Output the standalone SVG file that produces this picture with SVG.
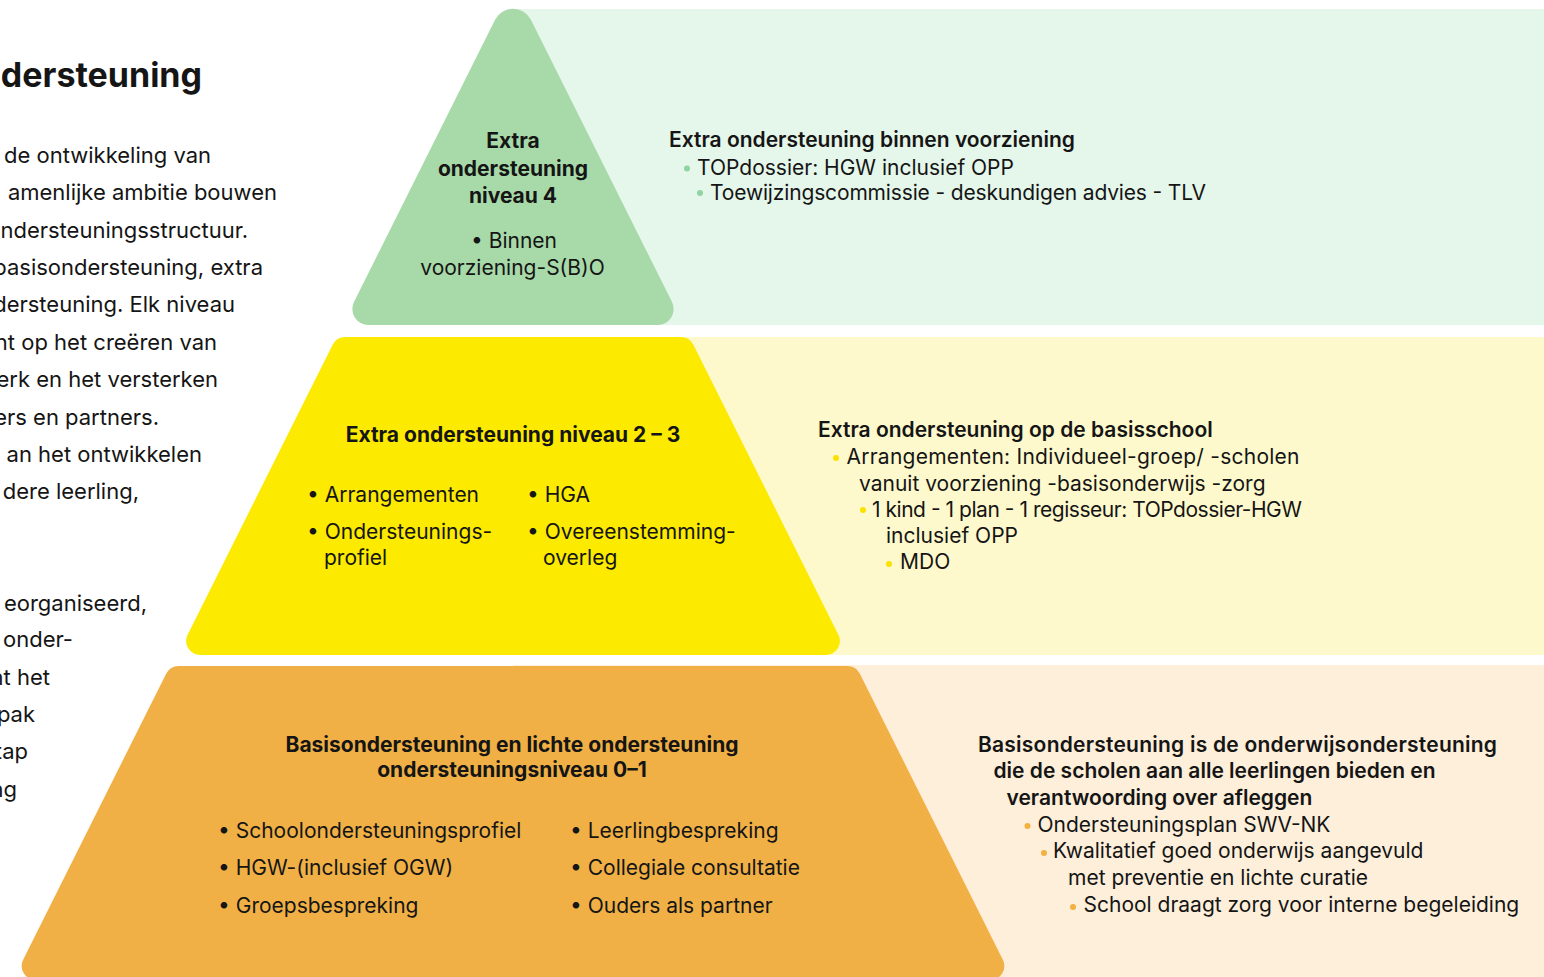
<svg xmlns="http://www.w3.org/2000/svg" width="1544" height="977" viewBox="0 0 1544 977">
<style>
text{font-family:Inter,"Liberation Sans",sans-serif;fill:#151515;}
.r{font-size:21px;font-weight:400;}
.l{font-size:22px;font-weight:400;}
.b{font-size:21px;font-weight:700;}
.s{font-size:21px;font-weight:600;}
.h{font-size:34px;font-weight:700;}
.e{text-anchor:end;}
.m{text-anchor:middle;}
.dg{fill:#8fd4a2;}
.dy{fill:#fbe200;}
.do{fill:#f4b041;}
</style>
<rect width="1544" height="977" fill="#ffffff"/>

<g id="intro">
<text class="h e" x="202" y="87">dersteuning</text>
<text class="l e" x="211" y="163">t de ontwikkeling van</text>
<text class="l e" x="277" y="200.4">amenlijke ambitie bouwen</text>
<text class="l e" x="248" y="237.7">ndersteuningsstructuur.</text>
<text class="l e" x="263" y="275">basisondersteuning, extra</text>
<text class="l e" x="235" y="312.4">dersteuning. Elk niveau</text>
<text class="l e" x="217" y="349.8">nt op het creëren van</text>
<text class="l e" x="218" y="387.1">erk en het versterken</text>
<text class="l e" x="159" y="424.5">ers en partners.</text>
<text class="l e" x="202" y="461.8">an het ontwikkelen</text>
<text class="l e" x="139" y="499.2">dere leerling,</text>
<text class="l e" x="147" y="610.5">eorganiseerd,</text>
<text class="l e" x="73" y="647.4">onder-</text>
<text class="l e" x="50" y="684.7">nt het</text>
<text class="l e" x="35" y="722">pak</text>
<text class="l e" x="28" y="759.4">tap</text>
<text class="l e" x="17" y="796.8">ng</text>
</g>

<g id="level4-panel">
<rect x="513" y="9" width="1031" height="316" fill="#e5f6ea"/>
<text class="s" x="669" y="146.5">Extra ondersteuning binnen voorziening</text>
<circle class="dg" cx="687" cy="168.5" r="3"/>
<text class="r" x="697" y="175">TOPdossier: HGW inclusief OPP</text>
<circle class="dg" cx="700" cy="193" r="3"/>
<text class="r" x="710" y="200" textLength="496" lengthAdjust="spacing">Toewijzingscommissie - deskundigen advies - TLV</text>
</g>

<g id="level23-panel">
<rect x="513" y="337" width="1031" height="318" fill="#fef9cc"/>
<text class="s" x="818" y="436.7">Extra ondersteuning op de basisschool</text>
<circle class="dy" cx="836" cy="458" r="3"/>
<text class="r" x="846.5" y="464" textLength="453" lengthAdjust="spacing">Arrangementen: Individueel-groep/ -scholen</text>
<text class="r" x="859" y="490.5">vanuit voorziening -basisonderwijs -zorg</text>
<circle class="dy" cx="863" cy="510" r="3"/>
<text class="r" x="872" y="516.7" textLength="430" lengthAdjust="spacing">1 kind - 1 plan - 1 regisseur: TOPdossier-HGW</text>
<text class="r" x="886" y="543.3">inclusief OPP</text>
<circle class="dy" cx="889" cy="564" r="3"/>
<text class="r" x="900" y="569.3">MDO</text>
</g>

<g id="level01-panel">
<rect x="513" y="665" width="1031" height="312" fill="#fdefda"/>
<text class="s" x="978" y="751.7" textLength="519" lengthAdjust="spacing">Basisondersteuning is de onderwijsondersteuning</text>
<text class="s" x="993.5" y="778.3">die de scholen aan alle leerlingen bieden en</text>
<text class="s" x="1006.5" y="805">verantwoording over afleggen</text>
<circle class="do" cx="1027.5" cy="826" r="3"/>
<text class="r" x="1037.5" y="831.7">Ondersteuningsplan SWV-NK</text>
<circle class="do" cx="1044" cy="853" r="3"/>
<text class="r" x="1053" y="858.3">Kwalitatief goed onderwijs aangevuld</text>
<text class="r" x="1068" y="885">met preventie en lichte curatie</text>
<circle class="do" cx="1073" cy="907" r="3"/>
<text class="r" x="1083.5" y="912.3">School draagt zorg voor interne begeleiding</text>
</g>

<g id="level4">
<path d="M368.4 325 L657.6 325 A16 16 0 0 0 671.9 301.8 L530.9 19.8 A20 20 0 0 0 495.1 19.8 L354.1 301.8 A16 16 0 0 0 368.4 325 Z" fill="#a8d9a9"/>
<text class="b m" x="513" y="148.3">Extra</text>
<text class="b m" x="513" y="175.5">ondersteuning</text>
<text class="b m" x="513" y="202.5">niveau 4</text>
<text class="r m" x="514" y="248.3">• Binnen</text>
<text class="r m" x="512.5" y="275">voorziening-S(B)O</text>
</g>

<g id="level23">
<path d="M345.15 337 L680.85 337 A14 14 0 0 1 693.37 344.74 L838.37 634.74 A14 14 0 0 1 825.85 655 L200.15 655 A14 14 0 0 1 187.63 634.74 L332.63 344.74 A14 14 0 0 1 345.15 337 Z" fill="#fcea00"/>
<text class="b m" x="513" y="441.7">Extra ondersteuning niveau 2 – 3</text>
<text class="r" x="307" y="501.5">• Arrangementen</text>
<text class="r" x="527" y="501.5">• HGA</text>
<text class="r" x="307" y="539.3">• Ondersteunings-</text>
<text class="r" x="324" y="565">profiel</text>
<text class="r" x="527" y="539.3">• Overeenstemming-</text>
<text class="r" x="543" y="565">overleg</text>
</g>

<g id="level01">
<path d="M178.65 666 L847.35 666 A14 14 0 0 1 859.87 673.74 L1002.87 959.74 A14 14 0 0 1 990.35 980 L35.65 980 A14 14 0 0 1 23.13 959.74 L166.13 673.74 A14 14 0 0 1 178.65 666 Z" fill="#f0b045"/>
<text class="b m" x="512" y="751.7">Basisondersteuning en lichte ondersteuning</text>
<text class="b m" x="512" y="776.7">ondersteuningsniveau 0–1</text>
<text class="r" x="218" y="838.3">• Schoolondersteuningsprofiel</text>
<text class="r" x="218" y="875">• HGW-(inclusief OGW)</text>
<text class="r" x="218" y="912.5">• Groepsbespreking</text>
<text class="r" x="570" y="838.3">• Leerlingbespreking</text>
<text class="r" x="570" y="875">• Collegiale consultatie</text>
<text class="r" x="570" y="912.5">• Ouders als partner</text>
</g>
</svg>
